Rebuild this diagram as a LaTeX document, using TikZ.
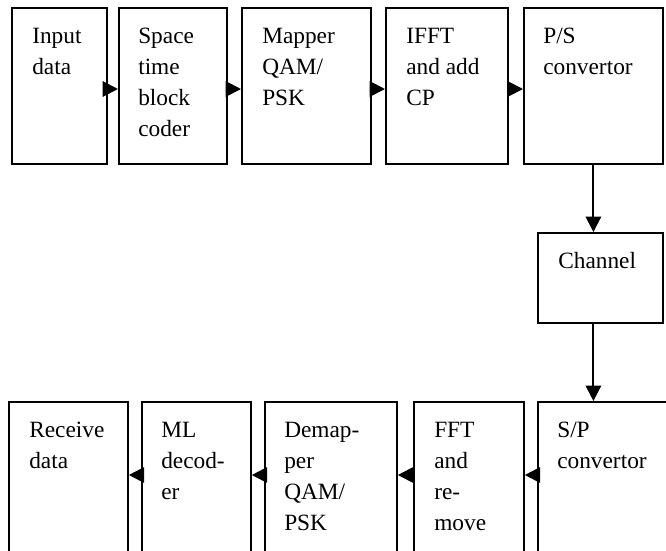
\documentclass[tikz,border=0pt]{standalone}
\usepackage{fontspec}
\setmainfont{Liberation Serif}
\usepackage{tikz}
\usetikzlibrary{arrows.meta,positioning,calc}

\tikzset{
  blk/.style 2 args={draw, line width=1.35pt, minimum width=#1*0.75pt,
    minimum height=#2*0.75pt, anchor=north west, inner sep=0pt},
  blktext/.style={anchor=base west, inner sep=0pt,
    font=\fontsize{17.5}{23.25}\selectfont},
  flow/.style={line width=1.5pt, -{Triangle[length=11.5pt, width=11.5pt]}}
}
\newcommand{\lines}[1]{\parbox[t]{100pt}{\raggedright #1}}

\begin{document}
\begin{tikzpicture}[x=0.75pt, y=-0.75pt]
      \useasboundingbox (0,0) rectangle (666,550);
      \clip (0,0) rectangle (666,550);
      % transmitter chain
      \node[blk={95}{156}] (in) at (11,7) {};
      \node[blk={108}{156}] (stbc) at (118,7) {};
      \node[blk={129}{156}] (map) at (241,7) {};
      \node[blk={122}{156}] (ifft) at (385,7) {};
      \node[blk={139}{156}] (ps) at (523,7) {};
      \node[blk={125}{90}] (chan) at (537,232) {};
      % receiver chain
      \node[blk={119}{170}] (rcv) at (8,401) {};
      \node[blk={109}{170}] (ml) at (141,401) {};
      \node[blk={132}{170}] (dem) at (264,401) {};
      \node[blk={110}{170}] (fft) at (413,401) {};
      \node[blk={160}{170}] (sp) at (537,401) {};
      % texts
      \node[blktext] (in-t) at ($(in.north west)+(21,36)$) {\lines{Input\\data}};
      \node[blktext] (stbc-t) at ($(stbc.north west)+(20,36)$) {\lines{Space\\time\\block\\coder}};
      \node[blktext] (map-t) at ($(map.north west)+(21,36)$) {\lines{Mapper\\QAM/\\PSK}};
      \node[blktext] (ifft-t) at ($(ifft.north west)+(21,36)$) {\lines{IFFT\\and add\\CP}};
      \node[blktext] (ps-t) at ($(ps.north west)+(20,36)$) {\lines{P/S\\convertor}};
      \node[blktext] (chan-t) at ($(chan.north west)+(21,36)$) {\lines{Channel}};
      \node[blktext] (rcv-t) at ($(rcv.north west)+(21,36)$) {\lines{Receive\\data}};
      \node[blktext] (ml-t) at ($(ml.north west)+(20,36)$) {\lines{ML\\decod-\\er}};
      \node[blktext] (dem-t) at ($(dem.north west)+(20,36)$) {\lines{Demap-\\per\\QAM/\\PSK}};
      \node[blktext] (fft-t) at ($(fft.north west)+(21,36)$) {\lines{FFT\\and\\re-\\move}};
      \node[blktext] (sp-t) at ($(sp.north west)+(20,36)$) {\lines{S/P\\convertor}};
      % connectors
      \coordinate (rowt) at (0,89);
      \coordinate (rowb) at (0,475);
      \draw[flow] (in.east |- rowt) -- (stbc.west |- rowt);
      \draw[flow] (stbc.east |- rowt) -- (map.west |- rowt);
      \draw[flow] (map.east |- rowt) -- (ifft.west |- rowt);
      \draw[flow] (ifft.east |- rowt) -- (ps.west |- rowt);
      \draw[flow] (ps.south) -- (ps.south |- chan.north);
      \draw[flow] (ps.south |- chan.south) -- (ps.south |- sp.north);
      \draw[flow] (sp.west |- rowb) -- (fft.east |- rowb);
      \draw[flow] (fft.west |- rowb) -- (dem.east |- rowb);
      \draw[flow] (dem.west |- rowb) -- (ml.east |- rowb);
      \draw[flow] (ml.west |- rowb) -- (rcv.east |- rowb);
    \end{tikzpicture}
\end{document}
